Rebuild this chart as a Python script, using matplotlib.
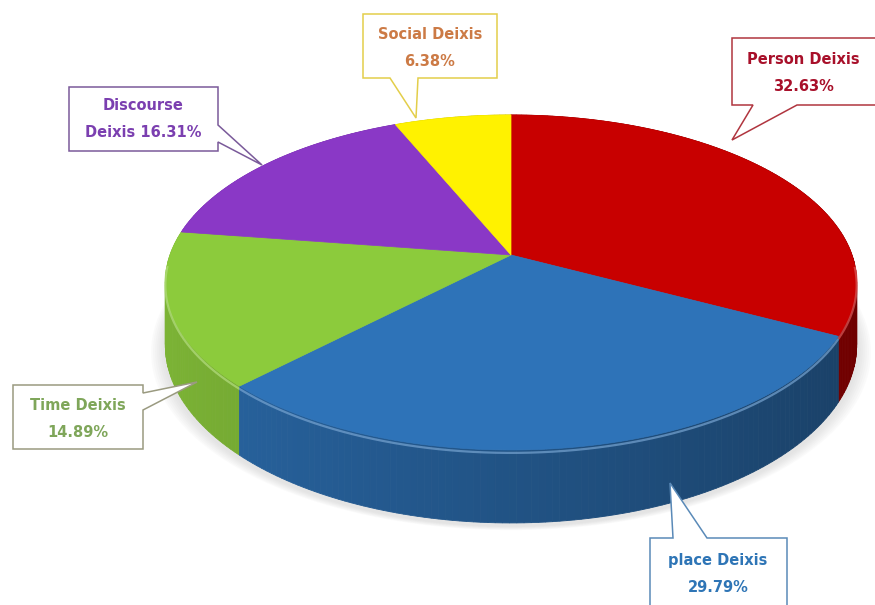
import numpy as np
import matplotlib.pyplot as plt
from matplotlib.patches import Polygon
from matplotlib.colors import to_rgb

# deixis types, clockwise from 12 o'clock
categorias = ["Person Deixis", "place Deixis", "Time Deixis", "Discourse Deixis", "Social Deixis"]
valores = [32.63, 29.79, 14.89, 16.31, 6.38]
rotulos = ["Person Deixis\n32.63%", "place Deixis\n29.79%", "Time Deixis\n14.89%",
           "Discourse\nDeixis 16.31%", "Social Deixis\n6.38%"]

cores = ["#C80000", "#2E73B8", "#8CCB3C", "#8A38C6", "#FFF200"]
cor_texto = ["#A8102A", "#2E75B6", "#7FA65A", "#7B3FB0", "#CC7A45"]
cor_borda = ["#B0353F", "#5A8AB8", "#9A9A80", "#7A5A9A", "#E3CE4A"]

# perspective of the tilted disc (pixels)
cx, cy = 511, 255
a, b, c, k = 341, 163, 61, 0.164


def projeta(theta, z=0.0, r=1.0):
    X = r * np.sin(theta)
    Y = r * np.cos(theta)
    d = 1 + k * Y
    return cx + a * X / d, cy - (b * Y + c * z) / d


def escurece(cor, f):
    return tuple(min(1, max(0, v * f)) for v in to_rgb(cor))


def clareia(cor, f):
    return tuple(v + (1 - v) * f for v in to_rgb(cor))


fig = plt.figure(figsize=(8.75, 6.05), dpi=100)
ax = fig.add_axes([0, 0, 1, 1])
ax.set_xlim(0, 875)
ax.set_ylim(605, 0)
ax.axis("off")

fracoes = np.array(valores) / sum(valores)
limites = np.concatenate([[0], np.cumsum(fracoes)]) * 2 * np.pi

# soft shadow under the disc
for i, esp in enumerate(np.linspace(14, 2, 7)):
    t = np.linspace(0, 2 * np.pi, 200)
    xs, ys = projeta(t, -1.0)
    ax.add_patch(Polygon(np.column_stack([cx + (xs - cx) * (1 + esp / 340), ys + esp * 0.3 + 3]),
                         closed=True, facecolor="#B8B8B8", edgecolor="none", alpha=0.06, zorder=1))

# side walls, back to front
paredes = []
for i in range(len(valores)):
    t = np.linspace(limites[i], limites[i + 1], max(3, int(np.degrees(limites[i + 1] - limites[i]))))
    for t1, t2 in zip(t[:-1], t[1:]):
        x1, y1 = projeta(t1)
        x2, y2 = projeta(t2)
        x3, y3 = projeta(t2, -1.0)
        x4, y4 = projeta(t1, -1.0)
        tm = (t1 + t2) / 2
        f = 0.72 - 0.17 * np.sin(tm)
        paredes.append((np.cos(tm), [(x1, y1), (x2, y2), (x3, y3), (x4, y4)], escurece(cores[i], f)))
paredes.sort(key=lambda p: -p[0])
for _, pts, cor in paredes:
    ax.add_patch(Polygon(pts, closed=True, facecolor=cor, edgecolor=cor, lw=0.6, zorder=2))

# top faces
for i in range(len(valores)):
    t = np.linspace(limites[i], limites[i + 1], 200)
    xs, ys = projeta(t)
    pts = np.column_stack([np.r_[cx, xs], np.r_[cy, ys]])
    ax.add_patch(Polygon(pts, closed=True, facecolor=cores[i], edgecolor=cores[i], lw=0.5, zorder=3))
    # light bevel along the front rim
    frente = t[np.cos(t) < -0.05]
    if len(frente) > 1:
        xs, ys = projeta(frente, -0.04)
        ax.plot(xs, ys, color=clareia(cores[i], 0.35), lw=1.6, alpha=0.7, zorder=4,
                solid_capstyle="butt")

# callout boxes with tails
caixas = [
    [(732, 38), (880, 38), (880, 105), (797, 105), (732, 140), (753, 105), (732, 105)],
    [(650, 538), (673, 538), (670, 483), (707, 538), (787, 538), (787, 612), (650, 612)],
    [(13, 385), (143, 385), (143, 393), (197, 382), (143, 410), (143, 449), (13, 449)],
    [(69, 87), (218, 87), (218, 125), (262, 165), (218, 142), (218, 151), (69, 151)],
    [(363, 14), (497, 14), (497, 78), (418, 78), (416, 118), (390, 78), (363, 78)],
]
pos_texto = [(803, 73), (718, 574), (78, 419), (143, 119), (430, 48)]

for i in range(len(valores)):
    ax.add_patch(Polygon(caixas[i], closed=True, facecolor="white", edgecolor=cor_borda[i],
                         lw=1.1, zorder=5, joinstyle="miter"))
    ax.text(pos_texto[i][0], pos_texto[i][1], rotulos[i], ha="center", va="center",
            color=cor_texto[i], fontsize=10.5, fontweight="bold", family="DejaVu Sans",
            linespacing=1.95, zorder=6)

fig.savefig("out.png", dpi=100, facecolor="white")
